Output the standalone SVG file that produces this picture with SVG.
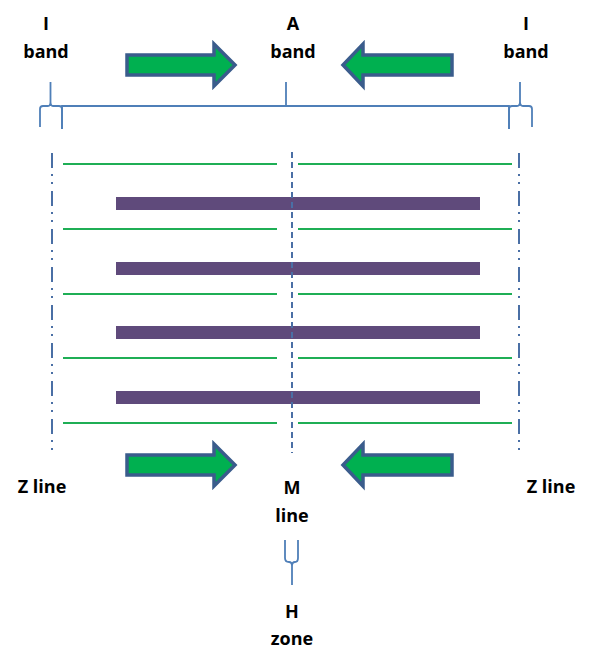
<svg xmlns="http://www.w3.org/2000/svg" width="592" height="653" viewBox="0 0 592 653">
<style>
.lbl{font-family:"Open Sans","Liberation Sans",sans-serif;font-weight:bold;font-size:18px;fill:#000;text-anchor:middle}
.arrow{fill:#00b050;stroke:#3a5c8c;stroke-width:3.5;stroke-linejoin:miter}
.brace{fill:none;stroke:#4f7fb8;stroke-width:1.8}
.actin{stroke:#1fae55;stroke-width:2}
.myosin{fill:#5f4a7b}
.zline{stroke:#4a6fa5;stroke-width:2;stroke-dasharray:15 6 2 6 2 7}
.mline{stroke:#4a6fa5;stroke-width:2;stroke-dasharray:6 4}
</style>
<rect width="592" height="653" fill="#fff"/>
<g id="labels">
<g id="i-band-left"><text class="lbl" x="46" y="30">I</text><text class="lbl" x="46" y="58">band</text></g>
<g id="a-band"><text class="lbl" x="293" y="30">A</text><text class="lbl" x="293" y="58">band</text></g>
<g id="i-band-right"><text class="lbl" x="526" y="30">I</text><text class="lbl" x="526" y="58">band</text></g>
<g id="z-line-left-label"><text class="lbl" x="42" y="493">Z line</text></g>
<g id="z-line-right-label"><text class="lbl" x="551" y="493">Z line</text></g>
<g id="m-line-label"><text class="lbl" x="292" y="494">M</text><text class="lbl" x="292" y="522">line</text></g>
<g id="h-zone-label"><text class="lbl" x="292" y="618">H</text><text class="lbl" x="292" y="645">zone</text></g>
</g>
<g id="arrows">
<path id="arrow-top-left" class="arrow" d="M127,55 H214 V44 L235,65 L214,86 V75 H127 Z"/>
<path id="arrow-top-right" class="arrow" d="M452,55 H363 V44 L343,65 L363,86 V75 H452 Z"/>
<path id="arrow-bottom-left" class="arrow" d="M127,455 H214 V444 L235,465 L214,486 V475 H127 Z"/>
<path id="arrow-bottom-right" class="arrow" d="M452,455 H363 V444 L343,465 L363,486 V475 H452 Z"/>
</g>
<g id="braces">
<path id="brace-i-left" class="brace" d="M40,127 V109 Q40,106 43,106 H48 Q50.5,106 50.5,102 V82 M50.5,102 Q50.5,106 53,106 H59 Q62,106 62,109 V129"/>
<path id="brace-a" class="brace" d="M62,129 V106 H509 V129 M286,106 V82"/>
<path id="brace-i-right" class="brace" d="M509,129 V109 Q509,106 512,106 H517 Q520,106 520,102 V82 M520,102 Q520,106 523,106 H529 Q532,106 532,109 V127"/>
<path id="brace-h" class="brace" d="M285,540 V558 Q285,562 289,562 Q292,562 292,566 V585 M292,566 Q292,562 295,562 Q298,562 298,558 V540"/>
</g>
<g id="filaments">
<g id="thin-filaments">
<line class="actin" x1="63" y1="164" x2="277" y2="164"/><line class="actin" x1="298" y1="164" x2="512" y2="164"/>
<line class="actin" x1="63" y1="229" x2="277" y2="229"/><line class="actin" x1="298" y1="229" x2="512" y2="229"/>
<line class="actin" x1="63" y1="294" x2="277" y2="294"/><line class="actin" x1="298" y1="294" x2="512" y2="294"/>
<line class="actin" x1="63" y1="358" x2="277" y2="358"/><line class="actin" x1="298" y1="358" x2="512" y2="358"/>
<line class="actin" x1="63" y1="423" x2="277" y2="423"/><line class="actin" x1="298" y1="423" x2="512" y2="423"/>
</g>
<g id="thick-filaments">
<rect class="myosin" x="116" y="197" width="364" height="13"/>
<rect class="myosin" x="116" y="262" width="364" height="13"/>
<rect class="myosin" x="116" y="326" width="364" height="13"/>
<rect class="myosin" x="116" y="391" width="364" height="13"/>
</g>
</g>
<g id="lines">
<line id="z-line-left" class="zline" x1="52" y1="153" x2="52" y2="453"/>
<line id="z-line-right" class="zline" x1="519" y1="153" x2="519" y2="453"/>
<line id="m-line" class="mline" x1="292" y1="152" x2="292" y2="453"/>
</g>
</svg>
